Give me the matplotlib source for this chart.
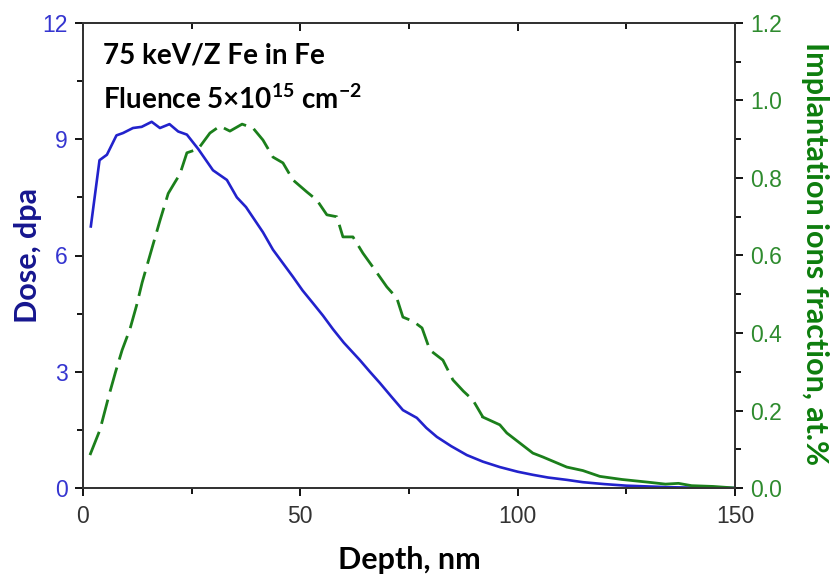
import matplotlib
matplotlib.use('Agg')
import matplotlib.pyplot as plt
from matplotlib.ticker import MultipleLocator

# Dose profile (left axis)
dose_depth = [1.8, 3.8, 5.5, 7.7, 9.2, 11.5, 13.5, 15.8, 17.7, 19.9, 21.9, 23.9,
              26.5, 29.9, 33.1, 35.4, 37.5, 41.4, 43.7, 46.0, 48.3, 50.5, 52.9,
              55.2, 57.5, 60.0, 63.7, 66.0, 68.3, 71.0, 73.6, 76.8, 79.0, 81.4,
              84.7, 88.3, 92.0, 95.9, 100.0, 103.5, 107.0, 111.3, 115.0, 120.0,
              125.0, 130.0, 135.0, 140.0, 145.0, 150.0]
dose_dpa = [6.75, 8.46, 8.60, 9.10, 9.16, 9.29, 9.32, 9.45, 9.29, 9.39, 9.20, 9.12,
            8.75, 8.20, 7.95, 7.50, 7.25, 6.60, 6.15, 5.80, 5.45, 5.10, 4.77,
            4.45, 4.10, 3.75, 3.30, 3.00, 2.71, 2.35, 2.01, 1.81, 1.55, 1.32,
            1.08, 0.85, 0.68, 0.54, 0.42, 0.34, 0.27, 0.21, 0.15, 0.10,
            0.06, 0.04, 0.02, 0.01, 0.005, 0.0]

# Implanted ion fraction (right axis)
ion_depth = [1.6, 3.9, 6.0, 7.5, 9.0, 10.8, 12.3, 13.6, 15.9, 17.7, 19.6, 21.2,
             22.3, 23.9, 26.5, 29.2, 31.5, 33.8, 36.6, 39.1, 41.4, 43.7, 46.0,
             48.3, 51.5, 53.8, 56.1, 58.4, 59.8, 62.1, 64.4, 66.7, 69.9, 72.2,
             73.6, 76.0, 78.0, 79.8, 82.8, 85.1, 87.5, 89.7, 92.0, 95.9, 97.5,
             100.5, 103.5, 105.8, 111.3, 115.0, 118.9, 124.0, 130.0, 134.0,
             137.0, 140.0, 145.0, 150.0]
ion_frac = [0.085, 0.15, 0.24, 0.30, 0.356, 0.41, 0.47, 0.53, 0.62, 0.69, 0.76, 0.79,
            0.81, 0.865, 0.875, 0.916, 0.934, 0.921, 0.939, 0.929, 0.898, 0.854, 0.839,
            0.795, 0.764, 0.743, 0.705, 0.70, 0.648, 0.648, 0.606, 0.57, 0.519, 0.49,
            0.441, 0.43, 0.413, 0.356, 0.33, 0.279, 0.25, 0.227, 0.183, 0.163, 0.142,
            0.116, 0.09, 0.08, 0.054, 0.045, 0.03, 0.022, 0.015, 0.01,
            0.012, 0.006, 0.004, 0.0]

# green curve is dashed up to this depth, solid after
dash_until = 92.0

blue = '#2222cc'
green = '#1b7f1b'
label_font = 'Lato'
tick_font = 'Liberation Sans'

plt.rcParams['mathtext.fontset'] = 'custom'
plt.rcParams['mathtext.rm'] = 'Lato:bold'
plt.rcParams['mathtext.default'] = 'rm'

fig = plt.figure(figsize=(8.37, 5.82), dpi=100)
ax = fig.add_axes([83 / 837, 94 / 582, 652 / 837, 465 / 582])
ax2 = ax.twinx()

ax.plot(dose_depth, dose_dpa, color=blue, lw=1.9)

# Split the ion fraction curve into dashed and solid parts
n_dash = sum(1 for d in ion_depth if d <= dash_until)
ax2.plot(ion_depth[:n_dash], ion_frac[:n_dash], color=green, lw=2.0,
         linestyle=(0, (9, 3)))
ax2.plot(ion_depth[n_dash - 1:], ion_frac[n_dash - 1:], color=green, lw=2.0)

ax.set_xlim(0, 150)
ax.set_ylim(0, 12)
ax2.set_ylim(0, 1.2)

# Ticks
ax.xaxis.set_major_locator(MultipleLocator(50))
ax.xaxis.set_minor_locator(MultipleLocator(25))
ax.yaxis.set_major_locator(MultipleLocator(3))
ax.yaxis.set_minor_locator(MultipleLocator(1.5))
ax2.yaxis.set_major_locator(MultipleLocator(0.2))
ax2.yaxis.set_minor_locator(MultipleLocator(0.1))
ax2.yaxis.set_major_formatter(plt.FormatStrFormatter('%.1f'))

ax.tick_params(axis='x', which='major', direction='out', length=6, width=1.3,
               labelsize=16.5, labelcolor='#333333', pad=6)
ax.tick_params(axis='x', which='minor', direction='out', length=4, width=1.3)
ax.tick_params(axis='y', which='major', direction='out', length=6, width=1.3,
               labelsize=16.5, labelcolor='#3535d0', pad=5)
ax.tick_params(axis='y', which='minor', direction='out', length=4, width=1.3)
ax2.tick_params(axis='y', which='major', direction='out', length=6, width=1.3,
                labelsize=16.5, labelcolor='#2e8b2e', pad=5)
ax2.tick_params(axis='y', which='minor', direction='out', length=4, width=1.3)

for lab in ax.get_xticklabels() + ax.get_yticklabels() + ax2.get_yticklabels():
    lab.set_fontfamily(tick_font)

# top axis ticks point inwards, no labels
top = ax.secondary_xaxis('top')
top.xaxis.set_major_locator(MultipleLocator(50))
top.xaxis.set_minor_locator(MultipleLocator(25))
top.tick_params(which='both', direction='in', labeltop=False, width=1.3)
top.tick_params(which='major', length=6)
top.tick_params(which='minor', length=4)

for a in (ax, ax2):
    for s in a.spines.values():
        s.set_linewidth(1.3)
        s.set_color('#333333')
top.spines['top'].set_linewidth(1.3)
top.spines['top'].set_color('#333333')

# Axis labels, centred at fixed spots like the reference
ax.set_xlabel('Depth, nm', fontsize=22, fontweight='bold', family=label_font,
              color='black')
ax.xaxis.set_label_coords(0.5, (488 - 560) / 465)
ax.xaxis.label.set_va('center')

ax.set_ylabel('Dose, dpa', fontsize=22, fontweight='bold', family=label_font,
              color='#16168f')
ax.yaxis.set_label_coords((28 - 83) / 652, 0.5)
ax.yaxis.label.set_va('center')

ax2.set_ylabel('Implantation ions fraction, at.%', fontsize=22, fontweight='bold',
               family=label_font, color='#0d7d0d', rotation=270)
ax2.yaxis.set_label_coords((815 - 83) / 652, 0.505)
ax2.yaxis.label.set_va('center')

# Annotation
ax.text(0.03, 0.93, '75 keV/Z Fe in Fe', transform=ax.transAxes, fontsize=20,
        fontweight='bold', family=label_font, va='center', ha='left')
ax.text(0.03, 0.835, 'Fluence 5×10$^{15}$ cm$^{-2}$', transform=ax.transAxes,
        fontsize=20, fontweight='bold', family=label_font, va='center', ha='left')

fig.savefig('out.png', dpi=100, facecolor='white')
